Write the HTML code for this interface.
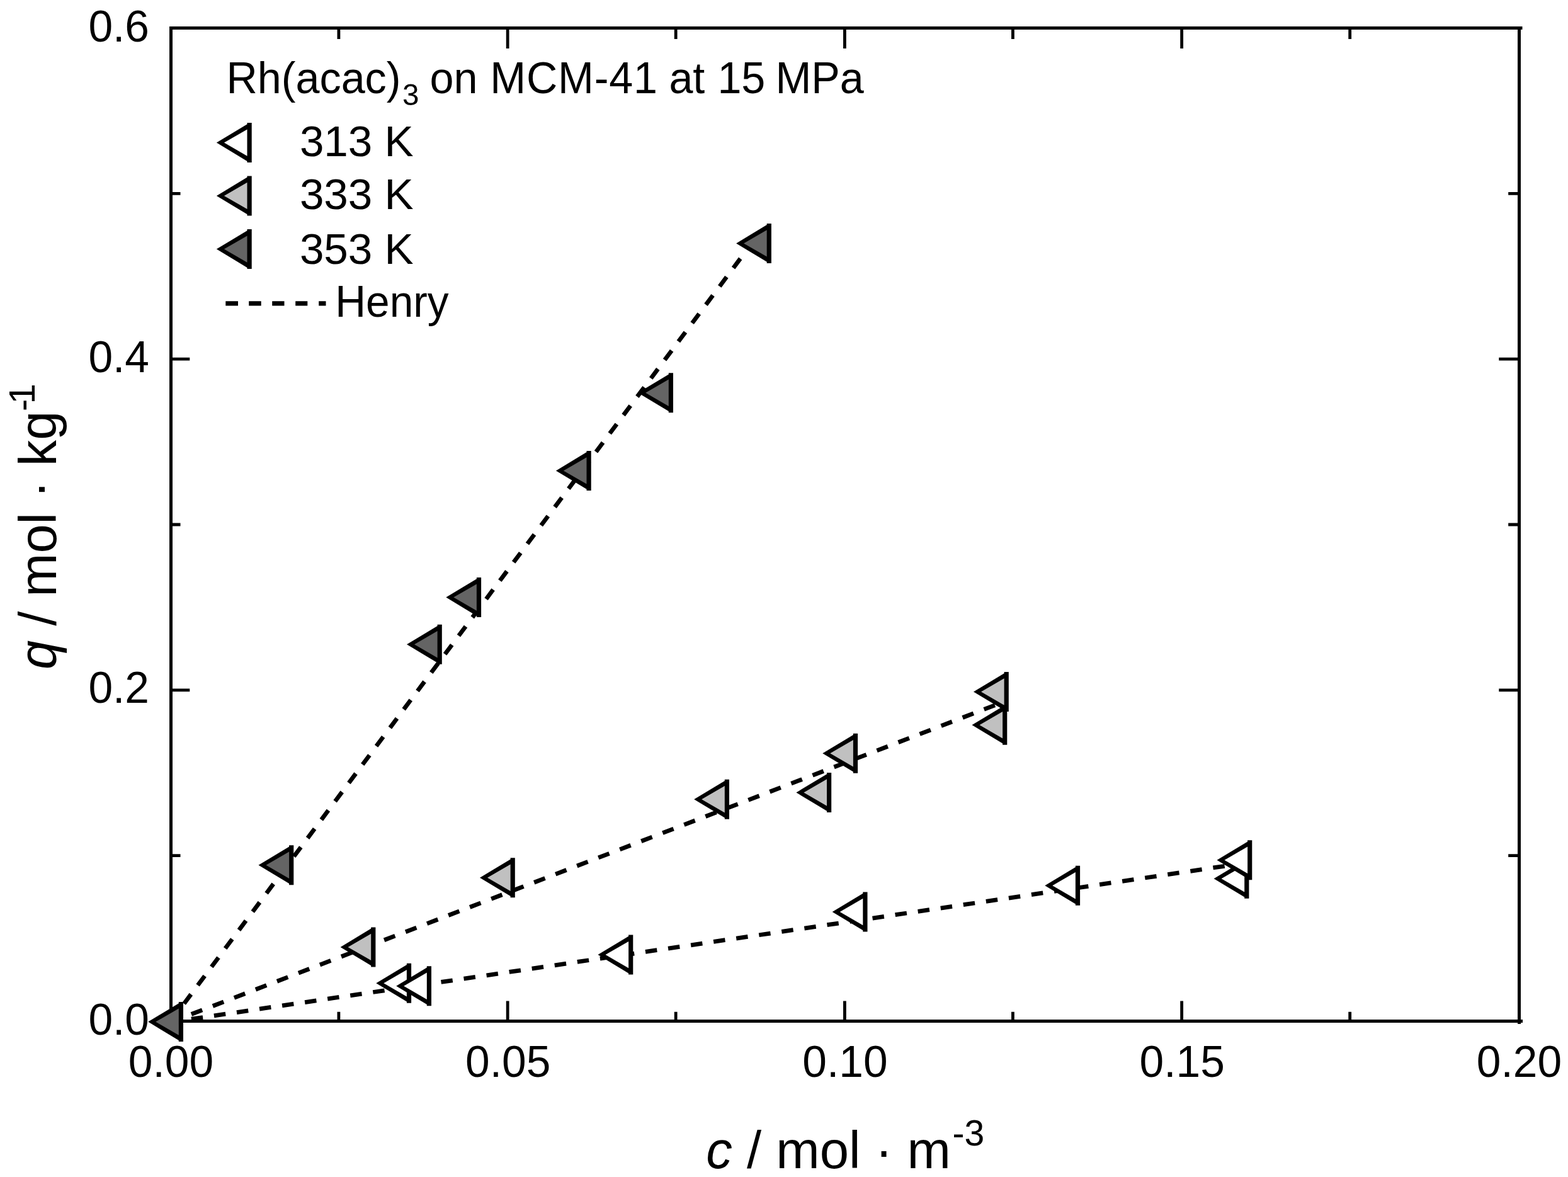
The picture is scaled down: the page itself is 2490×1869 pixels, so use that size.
<!DOCTYPE html>
<html><head><meta charset="utf-8"><title>Rh(acac)3 on MCM-41 at 15 MPa - adsorption isotherms</title>
<style>
html,body{margin:0;padding:0;background:#fff;overflow:hidden;}
svg{display:block;}
text{font-family:'Liberation Sans', Arial, sans-serif;fill:#000;}
</style></head>
<body>
<svg width="2490" height="1869" viewBox="0 0 2490 1869">
<rect width="2490" height="1869" fill="#fff"/>
<rect x="271.5" y="44.5" width="2141.0" height="1577.0" fill="none" stroke="#000" stroke-width="5"/>
<path d="M2412.5 1621.5H2418M2412.5 1621.5V1626M2412.5 44.5H2417.5" stroke="#000" stroke-width="5" fill="none"/>
<path d="M537.92 1621.5V1606.7M537.92 44.5V62M806.15 1621.5V1589.5M806.15 44.5V77M1073.17 1621.5V1606.7M1073.17 44.5V62M1341.4 1621.5V1589.5M1341.4 44.5V77M1608.42 1621.5V1606.7M1608.42 44.5V62M1876.65 1621.5V1589.5M1876.65 44.5V77M2143.68 1621.5V1606.7M2143.68 44.5V62M271.5 1358.67H286.5M2412.5 1358.67H2395.2M271.5 1095.83H301.3M2412.5 1095.83H2380.3M271.5 833H286.5M2412.5 833H2395.2M271.5 570.17H301.3M2412.5 570.17H2380.3M271.5 307.33H286.5M2412.5 307.33H2395.2" stroke="#000" stroke-width="4.8" fill="none"/>
<line x1="271.5" y1="1623" x2="1969.5" y2="1371.6" stroke="#000" stroke-width="6.8" stroke-dasharray="18.5 17.95" stroke-dashoffset="3.75"/>
<line x1="271.5" y1="1623" x2="1582" y2="1119" stroke="#000" stroke-width="6.8" stroke-dasharray="18.5 17.95" stroke-dashoffset="1.75"/>
<line x1="271.5" y1="1621.5" x2="1206.1" y2="369.88" stroke="#000" stroke-width="6.8" stroke-dasharray="18.5 17.95" stroke-dashoffset="1.75"/>
<polygon points="597.3,1561.3 645.9,1532 645.9,1529.8 653.1,1529.8 653.1,1592.8 645.9,1592.8 645.9,1590.6"/><polygon points="609.3,1561.3 645.9,1540.1 645.9,1582.5" fill="#fff"/>
<polygon points="629.2,1565.8 677.8,1536.5 677.8,1534.3 685,1534.3 685,1597.3 677.8,1597.3 677.8,1595.1"/><polygon points="641.2,1565.8 677.8,1544.6 677.8,1587" fill="#fff"/>
<polygon points="949.5,1516.1 998.1,1486.8 998.1,1484.6 1005.3,1484.6 1005.3,1547.6 998.1,1547.6 998.1,1545.4"/><polygon points="961.5,1516.1 998.1,1494.9 998.1,1537.3" fill="#fff"/>
<polygon points="1321.7,1448 1370.3,1418.7 1370.3,1416.5 1377.5,1416.5 1377.5,1479.5 1370.3,1479.5 1370.3,1477.3"/><polygon points="1333.7,1448 1370.3,1426.8 1370.3,1469.2" fill="#fff"/>
<polygon points="1659.3,1406.3 1707.9,1377 1707.9,1374.8 1715.1,1374.8 1715.1,1437.8 1707.9,1437.8 1707.9,1435.6"/><polygon points="1671.3,1406.3 1707.9,1385.1 1707.9,1427.5" fill="#fff"/>
<polygon points="1927.6,1395.2 1976.2,1365.9 1976.2,1363.7 1983.4,1363.7 1983.4,1426.7 1976.2,1426.7 1976.2,1424.5"/><polygon points="1939.6,1395.2 1976.2,1374 1976.2,1416.4" fill="#fff"/>
<polygon points="1932.5,1365.7 1981.1,1336.4 1981.1,1334.2 1988.3,1334.2 1988.3,1397.2 1981.1,1397.2 1981.1,1395"/><polygon points="1944.5,1365.7 1981.1,1344.5 1981.1,1386.9" fill="#fff"/>
<polygon points="540.6,1503.9 589.2,1474.6 589.2,1472.4 596.4,1472.4 596.4,1535.4 589.2,1535.4 589.2,1533.2"/><polygon points="552.6,1503.9 589.2,1482.7 589.2,1525.1" fill="#c0c0c0"/>
<polygon points="762,1393.7 810.6,1364.4 810.6,1362.2 817.8,1362.2 817.8,1425.2 810.6,1425.2 810.6,1423"/><polygon points="774,1393.7 810.6,1372.5 810.6,1414.9" fill="#c0c0c0"/>
<polygon points="1102.2,1269.3 1150.8,1240 1150.8,1237.8 1158,1237.8 1158,1300.8 1150.8,1300.8 1150.8,1298.6"/><polygon points="1114.2,1269.3 1150.8,1248.1 1150.8,1290.5" fill="#c0c0c0"/>
<polygon points="1264.4,1258.5 1313,1229.2 1313,1227 1320.2,1227 1320.2,1290 1313,1290 1313,1287.8"/><polygon points="1276.4,1258.5 1313,1237.3 1313,1279.7" fill="#c0c0c0"/>
<polygon points="1306.3,1196.3 1354.9,1167 1354.9,1164.8 1362.1,1164.8 1362.1,1227.8 1354.9,1227.8 1354.9,1225.6"/><polygon points="1318.3,1196.3 1354.9,1175.1 1354.9,1217.5" fill="#c0c0c0"/>
<polygon points="1546,1098.5 1594.6,1069.2 1594.6,1067 1601.8,1067 1601.8,1130 1594.6,1130 1594.6,1127.8"/><polygon points="1558,1098.5 1594.6,1077.3 1594.6,1119.7" fill="#c0c0c0"/>
<polygon points="1543.5,1151.2 1592.1,1121.9 1592.1,1119.7 1599.3,1119.7 1599.3,1182.7 1592.1,1182.7 1592.1,1180.5"/><polygon points="1555.5,1151.2 1592.1,1130 1592.1,1172.4" fill="#c0c0c0"/>
<polygon points="410.5,1373.8 459.1,1344.5 459.1,1342.3 466.3,1342.3 466.3,1405.3 459.1,1405.3 459.1,1403.1"/><polygon points="422.5,1373.8 459.1,1352.6 459.1,1395" fill="#646464"/>
<polygon points="646,1023.3 694.6,994 694.6,991.8 701.8,991.8 701.8,1054.8 694.6,1054.8 694.6,1052.6"/><polygon points="658,1023.3 694.6,1002.1 694.6,1044.5" fill="#646464"/>
<polygon points="708.3,948.6 756.9,919.3 756.9,917.1 764.1,917.1 764.1,980.1 756.9,980.1 756.9,977.9"/><polygon points="720.3,948.6 756.9,927.4 756.9,969.8" fill="#646464"/>
<polygon points="882.9,747.4 931.5,718.1 931.5,715.9 938.7,715.9 938.7,778.9 931.5,778.9 931.5,776.7"/><polygon points="894.9,747.4 931.5,726.2 931.5,768.6" fill="#646464"/>
<polygon points="1013.2,623.8 1061.8,594.5 1061.8,592.3 1069,592.3 1069,655.3 1061.8,655.3 1061.8,653.1"/><polygon points="1025.2,623.8 1061.8,602.6 1061.8,645" fill="#646464"/>
<polygon points="1169.1,386.4 1217.7,357.1 1217.7,354.9 1224.9,354.9 1224.9,417.9 1217.7,417.9 1217.7,415.7"/><polygon points="1181.1,386.4 1217.7,365.2 1217.7,407.6" fill="#646464"/>
<polygon points="235.2,1622.6 283.8,1593.3 283.8,1591.1 291,1591.1 291,1654.1 283.8,1654.1 283.8,1651.9"/><polygon points="247.2,1622.6 283.8,1601.4 283.8,1643.8" fill="#646464"/>
<text x="271.5" y="1709.5" font-size="69.5" text-anchor="middle">0.00</text>
<text x="806.75" y="1709.5" font-size="69.5" text-anchor="middle">0.05</text>
<text x="1342" y="1709.5" font-size="69.5" text-anchor="middle">0.10</text>
<text x="1877.25" y="1709.5" font-size="69.5" text-anchor="middle">0.15</text>
<text x="2412.5" y="1709.5" font-size="69.5" text-anchor="middle">0.20</text>
<text x="237" y="1642.9" font-size="69.5" text-anchor="end">0.0</text>
<text x="237" y="1115.7" font-size="69.5" text-anchor="end">0.2</text>
<text x="237" y="591" font-size="69.5" text-anchor="end">0.4</text>
<text x="237" y="66.1" font-size="69.5" text-anchor="end">0.6</text>
<text x="1121.2" y="1854.5" font-size="83.3"><tspan font-style="italic">c</tspan> / mol · m</text>
<text x="1512.5" y="1819.4" font-size="57">-3</text>
<g transform="translate(89.3 1063.1) rotate(-90)"><text x="0" y="0" font-size="83"><tspan font-style="italic">q</tspan> / mol · kg</text><text x="410.2" y="-34.8" font-size="58">-</text><text x="421.5" y="-34.8" font-size="58">1</text></g>
<text transform="translate(359.5 148) scale(1 1.04)" font-size="68.3">Rh(acac)</text>
<text x="639.1" y="166.5" font-size="47.5">3</text>
<text transform="translate(682.5 148) scale(1 1.04)" font-size="68.3">on</text>
<text transform="translate(778.3 148) scale(1 1.04)" font-size="68.3"><tspan letter-spacing="0.76">MCM-4</tspan>1</text>
<text transform="translate(1062.4 148) scale(1 1.04)" font-size="68.3">at</text>
<text transform="translate(1139.4 148) scale(1 1.04)" font-size="68.3">15</text>
<text transform="translate(1231.4 148) scale(1 1.04)" font-size="68.3">MPa</text>
<polygon points="343.9,226.6 392.5,197.3 392.5,195.1 399.7,195.1 399.7,258.1 392.5,258.1 392.5,255.9"/><polygon points="355.9,226.6 392.5,205.4 392.5,247.8" fill="#fff"/>
<text x="475.9" y="248.3" font-size="69.2">313 K</text>
<polygon points="343.9,310.9 392.5,281.6 392.5,279.4 399.7,279.4 399.7,342.4 392.5,342.4 392.5,340.2"/><polygon points="355.9,310.9 392.5,289.7 392.5,332.1" fill="#c0c0c0"/>
<text x="475.9" y="332.3" font-size="69.2">333 K</text>
<polygon points="343.9,395.6 392.5,366.3 392.5,364.1 399.7,364.1 399.7,427.1 392.5,427.1 392.5,424.9"/><polygon points="355.9,395.6 392.5,374.4 392.5,416.8" fill="#646464"/>
<text x="475.9" y="418.5" font-size="69.2">353 K</text>
<path d="M358.3 478.2H378.0V485.4H358.3ZM395.2 478.2H414.7V485.4H395.2ZM432.2 478.2H451.5V485.4H432.2ZM469.2 478.2H488.3V485.4H469.2ZM506.2 478.2H517.5V485.4H506.2Z" fill="#000"/>
<text transform="translate(532.3 503) scale(1 1.05)" font-size="67.6">Henry</text>
</svg>
</body></html>
